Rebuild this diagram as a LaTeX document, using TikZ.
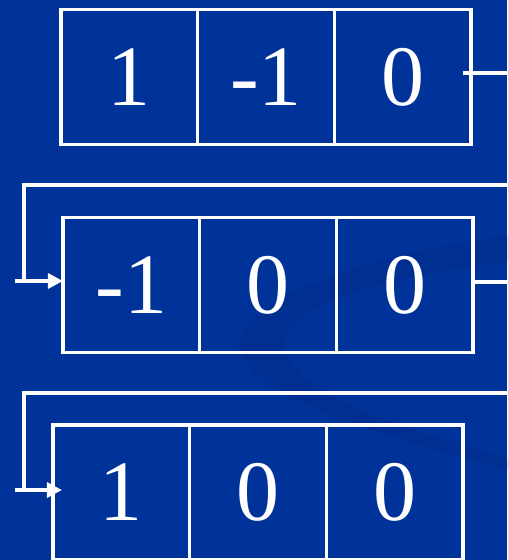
\documentclass[tikz,border=0pt]{standalone}
\usepackage{fontspec}
\setmainfont{Liberation Serif}
\usetikzlibrary{arrows.meta,positioning}
\definecolor{slidebg}{RGB}{0,51,153}
\definecolor{swoosh}{RGB}{0,47,145}

\begin{document}
\begin{tikzpicture}[x=1pt,y=-1pt,>={Triangle[length=15pt,width=15pt]},
  cell/.style={draw=white,line width=3.4pt,minimum width=136.7pt,minimum height=135pt,
    inner sep=0pt,outer sep=0pt,text=white,font=\fontsize{86}{86}\selectfont},
  wire/.style={white,line width=3.4pt}]
  \path[use as bounding box] (0,0) rectangle (507,560);
  \clip (0,0) rectangle (507,560);
  \fill[slidebg] (0,0) rectangle (507,560);
  \fill[swoosh] (507,236) .. controls (380,250) and (230,300) .. (240,350)
    .. controls (250,400) and (400,440) .. (507,470) -- (507,458)
    .. controls (420,432) and (300,400) .. (285,350)
    .. controls (275,300) and (420,272) .. (507,262) -- cycle;

  \node[cell] (r1a) at (129.3,77) {1};
  \node[cell,right=0pt of r1a] (r1b) {-1};
  \node[cell,right=0pt of r1b] (r1c) {0};

  \node[cell] (r2a) at (131.3,285) {-1};
  \node[cell,right=0pt of r2a] (r2b) {0};
  \node[cell,right=0pt of r2b] (r2c) {0};

  \node[cell] (r3a) at (121.3,492.5) {1};
  \node[cell,right=0pt of r3a] (r3b) {0};
  \node[cell,right=0pt of r3b] (r3c) {0};

  \coordinate (out1) at (507,73);
  \coordinate (out2) at (507,282);
  \coordinate (back2) at (507,185);
  \coordinate (in2) at (15,281);
  \coordinate (back3) at (507,393);
  \coordinate (in3) at (15,490);

  \draw[wire] ([shift={(-8,-4)}]r1c.east) -- (out1);
  \draw[wire] (back2) -| ([xshift=9pt]in2);
  \draw[wire,->] (in2) -- (in2 -| r2a.west);
  \draw[wire] (r2c.east |- out2) -- (out2);
  \draw[wire] (back3) -| ([xshift=9pt]in3);
  \draw[wire,->] (in3) -- ([xshift=9pt]r3a.west |- in3);
\end{tikzpicture}
\end{document}
